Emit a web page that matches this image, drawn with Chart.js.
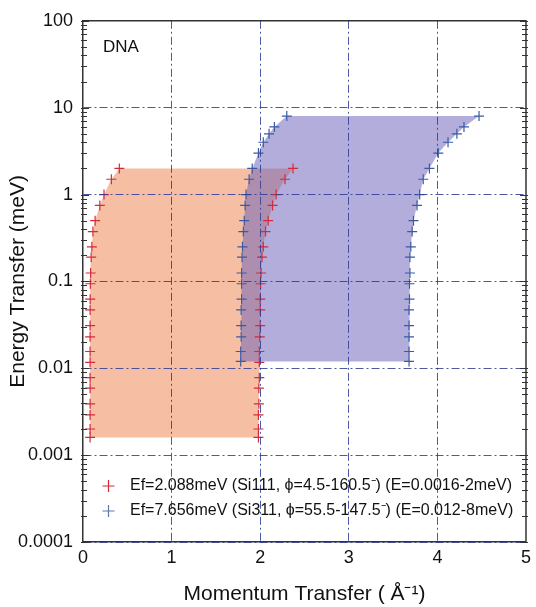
<!DOCTYPE html>
<html>
<head>
<meta charset="utf-8">
<script src="https://cdn.jsdelivr.net/npm/chart.js@4.4.0/dist/chart.umd.min.js"></script>
<style>
  html, body { margin: 0; padding: 0; background: #fff; }
</style>
</head>
<body>
<canvas id="chart" width="536" height="607"></canvas>
<script>
// energy transfer values (meV) at which the markers sit
const redEnergy = [0.0016, 0.002, 0.0029, 0.0039, 0.0059, 0.0078, 0.0117, 0.0156, 0.023, 0.031, 0.047,
                   0.0625, 0.094, 0.125, 0.19, 0.25, 0.375, 0.5, 0.75, 1, 1.5, 2];
const redLeftQ   = [0.08, 0.08, 0.08, 0.08, 0.08, 0.08, 0.08, 0.08, 0.08, 0.08, 0.08,
                    0.081, 0.083, 0.086, 0.092, 0.10, 0.112, 0.137, 0.19, 0.237, 0.32, 0.41];
const redRightQ  = [1.98, 1.98, 1.98, 1.985, 1.985, 1.99, 1.99, 1.99, 1.995, 2.0, 2.0,
                    2.0, 2.005, 2.01, 2.02, 2.035, 2.06, 2.09, 2.14, 2.18, 2.28, 2.37];

const blueEnergy = [0.012, 0.0156, 0.023, 0.031, 0.047, 0.0625, 0.094, 0.125, 0.19, 0.25, 0.375,
                    0.5, 0.75, 1, 1.5, 2, 3, 4, 5, 6, 8];
const blueLeftQ  = [1.78, 1.78, 1.785, 1.785, 1.785, 1.79, 1.79, 1.79, 1.795, 1.80, 1.81,
                    1.82, 1.83, 1.84, 1.875, 1.91, 1.98, 2.035, 2.10, 2.16, 2.30];
const blueRightQ = [3.68, 3.68, 3.68, 3.68, 3.68, 3.685, 3.685, 3.69, 3.69, 3.70, 3.715,
                    3.73, 3.77, 3.80, 3.84, 3.91, 4.01, 4.12, 4.22, 4.30, 4.47];

const seriesLabels = [
    'Ef=2.088meV (Si111, \u03D5=4.5-160.5\u207B) (E=0.0016-2meV)',
    'Ef=7.656meV (Si311, \u03D5=55.5-147.5\u207B) (E=0.012-8meV)'
];
const panelLabel = 'DNA';

const xTickLabels = ['0', '1', '2', '3', '4', '5'];
const yMajorTicks = [0.0001, 0.001, 0.01, 0.1, 1, 10, 100];
const yTickLabels = ['0.0001', '0.001', '0.01', '0.1', '1', '10', '100'];

const fontFamily = '"Liberation Sans", Arial, sans-serif';
const gridBlue = 'rgba(45, 60, 150, 0.85)';
const redMark = '#d42a3a';
const blueMark = '#3b5aa2';

Chart.defaults.font.family = fontFamily;
Chart.defaults.color = '#111';

function isMajor(v) {
    const l = Math.log10(v);
    return Math.abs(l - Math.round(l)) < 1e-6;
}

function yLabel(v) {
    for (let i = 0; i < yMajorTicks.length; i++) {
        if (Math.abs(Math.log10(v) - Math.log10(yMajorTicks[i])) < 1e-6) return yTickLabels[i];
    }
    return '';
}

// closed outline: left edge going up, right edge coming down
function outline(leftQ, rightQ, energy) {
    let pts = [];
    for (let i = 0; i < energy.length; i++) pts.push({x: leftQ[i], y: energy[i]});
    for (let i = energy.length - 1; i >= 0; i--) pts.push({x: rightQ[i], y: energy[i]});
    return pts;
}

function markers(leftQ, rightQ, energy) {
    let pts = [];
    energy.forEach((e, i) => {
        pts.push({x: leftQ[i], y: e});
        pts.push({x: rightQ[i], y: e});
    });
    return pts;
}

const framePlugin = {
    id: 'frame',
    afterDraw(chart) {
        const {ctx, chartArea: a} = chart;
        const y = chart.scales.y;
        ctx.save();
        ctx.strokeStyle = '#333';
        ctx.lineWidth = 1.5;
        ctx.beginPath();
        ctx.moveTo(a.left, a.top);
        ctx.lineTo(a.right, a.top);
        ctx.lineTo(a.right, a.bottom);
        ctx.stroke();

        // inward tick marks on both sides
        ctx.lineWidth = 1;
        y.ticks.forEach(t => {
            const py = Math.round(y.getPixelForValue(t.value)) + 0.5;
            const len = isMajor(t.value) ? 6 : 4;
            ctx.beginPath();
            ctx.moveTo(a.left - 2, py);
            ctx.lineTo(a.left + len, py);
            ctx.moveTo(a.right + 2, py);
            ctx.lineTo(a.right - len, py);
            ctx.stroke();
        });

        ctx.fillStyle = '#111';
        ctx.textBaseline = 'middle';
        ctx.font = '17px ' + fontFamily;
        ctx.fillText(panelLabel, a.left + 20, a.top + 27);

        // legend in the lower left of the plot
        ctx.font = '16px ' + fontFamily;
        const rows = [
            {label: seriesLabels[0], colour: redMark, y: a.bottom - 56},
            {label: seriesLabels[1], colour: '#5a78b0', y: a.bottom - 31}
        ];
        rows.forEach(r => {
            const mx = a.left + 25.5;
            ctx.strokeStyle = r.colour;
            ctx.lineWidth = 1.2;
            ctx.beginPath();
            ctx.moveTo(mx - 6, r.y);
            ctx.lineTo(mx + 6, r.y);
            ctx.moveTo(mx, r.y - 6);
            ctx.lineTo(mx, r.y + 6);
            ctx.stroke();
            ctx.fillStyle = '#111';
            ctx.fillText(r.label, a.left + 47, r.y);
        });
        ctx.restore();
    }
};

new Chart(document.getElementById('chart'), {
    type: 'scatter',
    data: {
        datasets: [
            {
                type: 'line',
                label: 'red area',
                data: outline(redLeftQ, redRightQ, redEnergy),
                indexAxis: 'y',
                fill: 'shape',
                backgroundColor: '#f6bfa3',
                borderWidth: 0,
                pointRadius: 0,
                tension: 0,
                order: 4
            },
            {
                type: 'line',
                label: 'blue area',
                data: outline(blueLeftQ, blueRightQ, blueEnergy),
                indexAxis: 'y',
                fill: 'shape',
                backgroundColor: 'rgba(108, 98, 186, 0.52)',
                borderWidth: 0,
                pointRadius: 0,
                tension: 0,
                order: 3
            },
            {
                label: seriesLabels[0],
                data: markers(redLeftQ, redRightQ, redEnergy),
                pointStyle: 'cross',
                pointRadius: 5,
                borderColor: redMark,
                borderWidth: 1.2,
                order: 2
            },
            {
                label: seriesLabels[1],
                data: markers(blueLeftQ, blueRightQ, blueEnergy),
                pointStyle: 'cross',
                pointRadius: 5,
                borderColor: blueMark,
                borderWidth: 1.2,
                order: 1
            }
        ]
    },
    options: {
        responsive: false,
        animation: false,
        layout: { padding: { top: 19, right: 3, left: 0, bottom: 0 } },
        plugins: {
            legend: { display: false },
            tooltip: { enabled: false }
        },
        scales: {
            x: {
                type: 'linear',
                min: 0,
                max: 5,
                ticks: {
                    stepSize: 1,
                    padding: 5,
                    font: { size: 18 },
                    callback: (v) => xTickLabels[Math.round(v)]
                },
                grid: {
                    z: 1,
                    drawTicks: false,
                    lineWidth: 1,
                    color: (c) => (c.tick && c.tick.value > 0 && c.tick.value < 5) ? gridBlue : 'rgba(0,0,0,0)'
                },
                border: { z: 1, color: '#333', width: 1.5, dash: [8, 3, 2, 3] },
                title: {
                    display: true,
                    text: 'Momentum Transfer ( \u00C5\u207B\u00B9)',
                    font: { size: 21 },
                    padding: { top: 0, bottom: 0 }
                },
                afterFit: (s) => { s.height = 65; }
            },
            y: {
                type: 'logarithmic',
                min: 0.0001,
                max: 100,
                afterBuildTicks: (s) => {
                    let t = [];
                    yMajorTicks.forEach((m, i) => {
                        t.push({value: m});
                        if (i < yMajorTicks.length - 1) {
                            for (let k = 2; k <= 9; k++) t.push({value: m * k});
                        }
                    });
                    s.ticks = t;
                },
                ticks: {
                    autoSkip: false,
                    padding: 10,
                    font: { size: 18 },
                    callback: (v) => yLabel(v)
                },
                grid: {
                    z: 1,
                    drawTicks: false,
                    lineWidth: 1,
                    color: (c) => (c.tick && isMajor(c.tick.value)) ? gridBlue : 'rgba(0,0,0,0)'
                },
                border: { z: 1, color: '#333', width: 1.5, dash: [8, 3, 2, 3] },
                title: {
                    display: true,
                    text: 'Energy Transfer (meV)',
                    font: { size: 21 },
                    padding: { top: 6, bottom: 0 }
                },
                afterFit: (s) => { s.width = 83; }
            }
        }
    },
    plugins: [framePlugin]
});
</script>
</body>
</html>
